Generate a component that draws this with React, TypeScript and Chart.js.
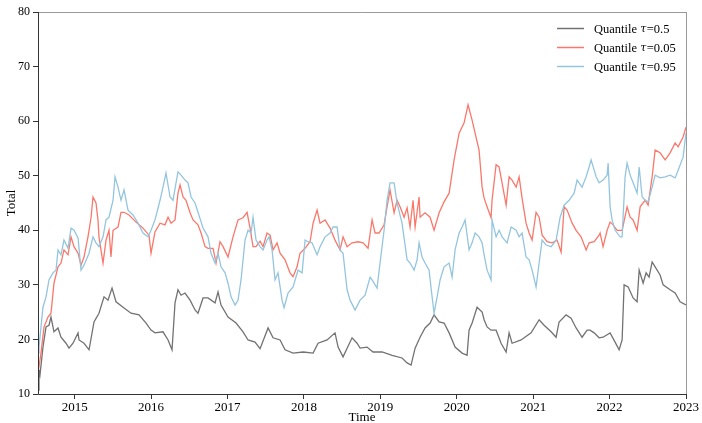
import React, { useEffect, useRef } from "react";
import { Chart, registerables } from "chart.js";

Chart.register(...registerables);

const FONT = "'Liberation Serif', 'Times New Roman', serif";
const GREEK_FONT = "'DejaVu Serif', serif";

const yearTicks = [2015, 2016, 2017, 2018, 2019, 2020, 2021, 2022, 2023];
const valueTicks = [10, 20, 30, 40, 50, 60, 70, 80];
const seriesLabels = ["Quantile τ=0.5", "Quantile τ=0.05", "Quantile τ=0.95"];
const seriesColors = ["#727272", "#f9786b", "#94c5df"];

const medianDates = [2014.520, 2014.533, 2014.546, 2014.585, 2014.625, 2014.664, 2014.690, 2014.729, 2014.782, 2014.821, 2014.886, 2014.926, 2014.978, 2015.044, 2015.057, 2015.122, 2015.188, 2015.253, 2015.318, 2015.384, 2015.436, 2015.489, 2015.541, 2015.633, 2015.737, 2015.842, 2015.934, 2015.999, 2016.051, 2016.156, 2016.222, 2016.274, 2016.313, 2016.352, 2016.392, 2016.444, 2016.510, 2016.575, 2016.614, 2016.680, 2016.745, 2016.837, 2016.876, 2016.915, 2017.007, 2017.112, 2017.203, 2017.269, 2017.360, 2017.426, 2017.531, 2017.596, 2017.688, 2017.753, 2017.858, 2017.989, 2018.120, 2018.185, 2018.303, 2018.407, 2018.447, 2018.512, 2018.565, 2018.630, 2018.695, 2018.735, 2018.826, 2018.905, 2019.023, 2019.154, 2019.284, 2019.350, 2019.402, 2019.455, 2019.520, 2019.585, 2019.651, 2019.703, 2019.769, 2019.834, 2019.900, 2019.978, 2020.070, 2020.135, 2020.161, 2020.201, 2020.266, 2020.332, 2020.358, 2020.397, 2020.449, 2020.515, 2020.580, 2020.646, 2020.685, 2020.724, 2020.842, 2020.973, 2021.078, 2021.143, 2021.235, 2021.300, 2021.339, 2021.431, 2021.496, 2021.562, 2021.640, 2021.706, 2021.745, 2021.798, 2021.863, 2021.915, 2022.007, 2022.072, 2022.125, 2022.164, 2022.190, 2022.243, 2022.308, 2022.360, 2022.387, 2022.439, 2022.478, 2022.517, 2022.557, 2022.596, 2022.661, 2022.701, 2022.792, 2022.858, 2022.923, 2023.000];
const medianValues = [10.7, 14.4, 13.5, 18.6, 22.3, 22.6, 24.1, 21.4, 22.1, 20.4, 19.3, 18.4, 19.3, 21.2, 19.9, 19.3, 18.1, 23.2, 24.8, 27.8, 27.2, 29.4, 26.9, 25.9, 24.8, 24.5, 23.0, 21.7, 21.2, 21.4, 19.9, 18.1, 26.7, 29.1, 28.1, 28.5, 27.2, 25.4, 24.8, 27.6, 27.6, 26.7, 28.7, 26.3, 24.1, 23.0, 21.4, 19.9, 19.5, 18.3, 22.1, 20.3, 19.9, 18.1, 17.5, 17.7, 17.5, 19.3, 19.9, 21.2, 18.6, 16.8, 18.4, 20.3, 19.3, 18.4, 18.6, 17.7, 17.7, 17.1, 16.6, 15.7, 15.3, 18.4, 20.4, 22.1, 23.0, 24.5, 23.2, 23.0, 21.2, 18.6, 17.5, 17.1, 21.7, 23.0, 25.9, 25.0, 23.6, 22.3, 21.7, 21.7, 19.3, 17.7, 21.2, 19.3, 19.9, 21.2, 23.6, 22.6, 21.4, 20.4, 23.2, 24.5, 23.9, 22.1, 20.4, 21.7, 21.7, 21.2, 20.3, 20.4, 21.2, 19.5, 18.1, 19.9, 30.0, 29.6, 27.6, 26.9, 32.7, 30.3, 32.2, 31.4, 34.2, 33.3, 31.8, 30.0, 29.1, 28.5, 26.9, 26.3];

const lowDates = [2014.520, 2014.559, 2014.599, 2014.651, 2014.690, 2014.729, 2014.782, 2014.821, 2014.860, 2014.913, 2014.952, 2014.991, 2015.044, 2015.083, 2015.122, 2015.174, 2015.214, 2015.240, 2015.279, 2015.305, 2015.318, 2015.371, 2015.410, 2015.449, 2015.475, 2015.502, 2015.567, 2015.606, 2015.646, 2015.711, 2015.803, 2015.894, 2015.973, 2015.999, 2016.051, 2016.117, 2016.182, 2016.222, 2016.261, 2016.313, 2016.352, 2016.379, 2016.418, 2016.457, 2016.510, 2016.549, 2016.614, 2016.654, 2016.706, 2016.745, 2016.811, 2016.850, 2016.902, 2016.942, 2017.007, 2017.072, 2017.138, 2017.203, 2017.256, 2017.295, 2017.334, 2017.373, 2017.426, 2017.465, 2017.517, 2017.557, 2017.596, 2017.648, 2017.688, 2017.753, 2017.818, 2017.858, 2017.910, 2017.949, 2018.015, 2018.080, 2018.120, 2018.172, 2018.211, 2018.277, 2018.342, 2018.407, 2018.473, 2018.512, 2018.565, 2018.630, 2018.709, 2018.774, 2018.839, 2018.892, 2018.931, 2018.983, 2019.049, 2019.088, 2019.127, 2019.180, 2019.219, 2019.258, 2019.311, 2019.350, 2019.389, 2019.428, 2019.455, 2019.507, 2019.520, 2019.585, 2019.651, 2019.703, 2019.769, 2019.834, 2019.900, 2019.965, 2020.031, 2020.096, 2020.148, 2020.201, 2020.240, 2020.292, 2020.332, 2020.358, 2020.397, 2020.449, 2020.462, 2020.515, 2020.554, 2020.593, 2020.646, 2020.685, 2020.724, 2020.777, 2020.816, 2020.855, 2020.907, 2020.947, 2020.986, 2021.038, 2021.078, 2021.117, 2021.182, 2021.248, 2021.313, 2021.366, 2021.405, 2021.444, 2021.510, 2021.562, 2021.627, 2021.693, 2021.732, 2021.798, 2021.863, 2021.876, 2021.915, 2021.968, 2022.007, 2022.046, 2022.099, 2022.164, 2022.229, 2022.269, 2022.308, 2022.360, 2022.400, 2022.465, 2022.504, 2022.557, 2022.596, 2022.661, 2022.727, 2022.792, 2022.858, 2022.897, 2022.962, 2023.000];
const lowValues = [13.8, 17.5, 22.3, 24.1, 24.8, 30.3, 33.3, 34.0, 36.4, 35.5, 38.8, 37.0, 35.8, 33.6, 35.1, 38.8, 42.3, 46.1, 45.0, 41.9, 38.8, 34.0, 38.2, 40.0, 35.1, 40.0, 40.6, 43.3, 43.3, 42.8, 41.5, 40.4, 39.1, 35.8, 39.7, 41.3, 41.0, 42.4, 41.3, 41.9, 46.8, 48.3, 46.1, 45.5, 43.2, 41.9, 41.0, 39.5, 37.0, 36.7, 36.7, 34.0, 37.9, 37.0, 35.1, 38.8, 41.9, 42.3, 43.3, 40.4, 37.0, 37.0, 38.0, 37.0, 39.5, 39.1, 36.4, 37.7, 35.8, 34.6, 32.2, 31.5, 33.3, 35.8, 36.7, 37.9, 41.3, 43.7, 41.3, 41.9, 40.4, 38.2, 36.4, 38.8, 37.0, 37.7, 37.9, 37.7, 36.7, 41.9, 39.5, 39.5, 41.0, 44.3, 47.4, 43.2, 45.5, 44.3, 42.4, 44.1, 40.6, 45.5, 40.6, 46.1, 42.4, 43.2, 42.4, 40.0, 43.2, 45.2, 46.8, 52.9, 57.8, 59.7, 63.0, 60.2, 57.8, 54.7, 47.9, 45.9, 44.3, 42.3, 45.5, 52.0, 51.6, 48.7, 44.6, 49.8, 49.2, 47.9, 49.8, 45.9, 41.3, 39.5, 38.2, 43.3, 42.4, 39.1, 37.9, 37.7, 38.2, 36.0, 44.3, 43.7, 41.3, 40.0, 38.8, 36.4, 37.7, 37.9, 39.1, 39.5, 37.0, 40.0, 41.5, 41.0, 40.0, 40.0, 44.3, 42.4, 41.9, 40.0, 44.3, 45.5, 44.6, 49.8, 54.7, 54.2, 52.9, 54.2, 56.0, 55.3, 57.1, 58.9];

const highDates = [2014.520, 2014.533, 2014.585, 2014.625, 2014.664, 2014.716, 2014.756, 2014.782, 2014.821, 2014.860, 2014.913, 2014.952, 2014.991, 2015.044, 2015.083, 2015.122, 2015.188, 2015.240, 2015.279, 2015.318, 2015.371, 2015.410, 2015.449, 2015.502, 2015.528, 2015.567, 2015.606, 2015.646, 2015.698, 2015.763, 2015.829, 2015.894, 2015.960, 2015.999, 2016.051, 2016.117, 2016.156, 2016.195, 2016.248, 2016.287, 2016.326, 2016.352, 2016.392, 2016.444, 2016.483, 2016.523, 2016.575, 2016.614, 2016.680, 2016.745, 2016.784, 2016.837, 2016.876, 2016.915, 2016.968, 2017.007, 2017.046, 2017.099, 2017.138, 2017.177, 2017.229, 2017.269, 2017.308, 2017.334, 2017.373, 2017.426, 2017.465, 2017.517, 2017.544, 2017.583, 2017.622, 2017.661, 2017.714, 2017.740, 2017.792, 2017.858, 2017.923, 2017.976, 2018.015, 2018.054, 2018.106, 2018.172, 2018.211, 2018.277, 2018.342, 2018.381, 2018.434, 2018.473, 2018.512, 2018.565, 2018.604, 2018.669, 2018.735, 2018.800, 2018.866, 2018.892, 2018.957, 2018.996, 2019.049, 2019.088, 2019.127, 2019.180, 2019.219, 2019.284, 2019.350, 2019.389, 2019.442, 2019.481, 2019.507, 2019.546, 2019.585, 2019.638, 2019.664, 2019.703, 2019.743, 2019.782, 2019.834, 2019.900, 2019.939, 2019.978, 2020.031, 2020.070, 2020.109, 2020.161, 2020.201, 2020.240, 2020.292, 2020.332, 2020.358, 2020.397, 2020.449, 2020.462, 2020.515, 2020.554, 2020.593, 2020.659, 2020.711, 2020.777, 2020.816, 2020.855, 2020.907, 2020.947, 2020.986, 2021.038, 2021.078, 2021.117, 2021.169, 2021.235, 2021.300, 2021.353, 2021.405, 2021.470, 2021.536, 2021.575, 2021.640, 2021.693, 2021.732, 2021.758, 2021.824, 2021.863, 2021.915, 2021.968, 2021.981, 2022.007, 2022.033, 2022.072, 2022.138, 2022.164, 2022.203, 2022.229, 2022.269, 2022.308, 2022.360, 2022.387, 2022.426, 2022.465, 2022.504, 2022.557, 2022.596, 2022.661, 2022.727, 2022.792, 2022.858, 2022.897, 2022.962, 2023.000];
const highValues = [17.5, 18.6, 25.9, 27.8, 30.9, 32.2, 32.7, 36.4, 35.5, 38.2, 36.7, 40.4, 40.0, 38.6, 32.7, 33.6, 35.8, 38.8, 37.7, 37.0, 38.8, 41.9, 42.4, 45.5, 49.8, 47.9, 45.5, 47.4, 43.7, 42.8, 41.3, 39.5, 38.8, 40.0, 41.9, 45.5, 47.9, 50.5, 46.1, 45.5, 48.7, 50.7, 50.1, 49.2, 48.7, 46.1, 45.0, 43.3, 40.4, 38.8, 35.8, 34.0, 35.8, 33.3, 32.2, 30.3, 27.8, 26.3, 27.2, 30.9, 38.2, 40.0, 39.5, 42.4, 38.2, 37.0, 36.4, 38.2, 38.8, 36.4, 30.9, 32.2, 27.2, 25.8, 28.5, 29.6, 32.7, 32.2, 38.2, 37.9, 37.7, 35.5, 37.0, 38.8, 39.5, 40.6, 40.6, 36.4, 35.8, 29.1, 27.2, 25.4, 27.2, 28.1, 31.4, 30.9, 29.4, 34.0, 40.0, 45.5, 48.7, 48.7, 45.0, 41.3, 34.6, 34.0, 32.7, 34.6, 37.7, 35.1, 34.0, 32.7, 29.4, 24.8, 27.8, 30.9, 33.3, 34.0, 31.4, 36.4, 39.5, 40.6, 41.9, 36.4, 37.7, 39.5, 38.8, 37.7, 35.5, 32.7, 30.9, 41.9, 38.8, 40.0, 38.8, 37.7, 40.6, 40.0, 38.8, 39.5, 35.1, 34.6, 32.7, 29.6, 34.0, 38.2, 37.3, 37.0, 38.2, 42.4, 44.6, 45.5, 46.8, 49.2, 47.9, 49.8, 51.6, 52.9, 49.8, 48.7, 49.2, 50.1, 52.3, 44.3, 41.9, 40.0, 38.8, 38.8, 49.8, 52.3, 50.1, 48.7, 46.8, 51.6, 46.1, 45.5, 45.2, 47.9, 50.1, 49.6, 49.8, 50.1, 49.6, 51.0, 53.4, 57.8];

const toPoints = (xs: number[], ys: number[]) =>
  xs.map((x, i) => ({ x, y: ys[i] }));

const framePlugin = {
  id: "frame",
  afterDraw(chart: any) {
    const { ctx, chartArea } = chart;
    const { left, right, top, bottom } = chartArea;
    ctx.save();
    ctx.lineWidth = 1;
    ctx.strokeStyle = "#9a9a9a";
    ctx.beginPath();
    ctx.moveTo(left, top + 0.5);
    ctx.lineTo(right + 0.5, top + 0.5);
    ctx.moveTo(right + 0.5, top);
    ctx.lineTo(right + 0.5, bottom);
    ctx.stroke();
    ctx.strokeStyle = "#333333";
    ctx.beginPath();
    ctx.moveTo(left + 0.5, top);
    ctx.lineTo(left + 0.5, bottom + 0.5);
    ctx.lineTo(right + 1, bottom + 0.5);
    ctx.stroke();
    ctx.restore();
  },
};

const legendPlugin = {
  id: "inlineLegend",
  afterDraw(chart: any) {
    const { ctx, chartArea } = chart;
    const { right, top } = chartArea;
    ctx.save();
    chart.data.datasets.forEach((ds: any, i: number) => {
      const y = top + 16.5 + i * 19;
      ctx.strokeStyle = ds.borderColor;
      ctx.lineWidth = 1.5;
      ctx.beginPath();
      ctx.moveTo(right - 129, y);
      ctx.lineTo(right - 102, y);
      ctx.stroke();
      const label: string = ds.label;
      const k = label.indexOf("τ");
      const parts = [
        { t: label.slice(0, k), greek: false },
        { t: "τ", greek: true },
        { t: label.slice(k + 1), greek: false },
      ];
      let x = right - 92;
      ctx.fillStyle = "#000";
      ctx.textBaseline = "middle";
      ctx.textAlign = "left";
      parts.forEach((p) => {
        ctx.font = p.greek ? `italic 11px ${GREEK_FONT}` : `12.5px ${FONT}`;
        ctx.fillText(p.t, x, y + 1);
        x += ctx.measureText(p.t).width + (p.greek ? 0.5 : 0);
      });
    });
    ctx.restore();
  },
};

export default function App() {
  const canvasRef = useRef<HTMLCanvasElement | null>(null);

  useEffect(() => {
    const canvas = canvasRef.current;
    if (!canvas) return;
    const chart = new Chart(canvas, {
      type: "line",
      data: {
        datasets: [
          {
            label: seriesLabels[0],
            data: toPoints(medianDates, medianValues),
            borderColor: seriesColors[0],
            borderWidth: 1.3,
            pointRadius: 0,
            tension: 0,
            order: 3,
          },
          {
            label: seriesLabels[1],
            data: toPoints(lowDates, lowValues),
            borderColor: seriesColors[1],
            borderWidth: 1.3,
            pointRadius: 0,
            tension: 0,
            order: 2,
          },
          {
            label: seriesLabels[2],
            data: toPoints(highDates, highValues),
            borderColor: seriesColors[2],
            borderWidth: 1.3,
            pointRadius: 0,
            tension: 0,
            order: 1,
          },
        ],
      },
      options: {
        animation: false,
        responsive: false,
        devicePixelRatio: 1,
        layout: { padding: { top: 12, right: 16, left: 0, bottom: 0 } },
        plugins: {
          legend: { display: false },
          tooltip: { enabled: false },
        },
        scales: {
          x: {
            type: "linear",
            min: 2014.52,
            max: 2023,
            afterBuildTicks: (s: any) => {
              s.ticks = yearTicks.map((v) => ({ value: v }));
            },
            afterFit: (s: any) => {
              s.height = 29;
            },
            ticks: {
              callback: (v: any) => String(v),
              font: { family: FONT, size: 13 },
              color: "#000",
              padding: 1,
              maxRotation: 0,
              autoSkip: false,
            },
            grid: {
              drawOnChartArea: false,
              drawTicks: true,
              tickLength: 5,
              color: "#333",
            },
            border: { display: false },
            title: {
              display: true,
              text: "Time",
              color: "#000",
              font: { family: FONT, size: 13, lineHeight: 1 },
              padding: { top: 0, bottom: -1 },
            },
          },
          y: {
            type: "linear",
            min: 10,
            max: 80,
            afterBuildTicks: (s: any) => {
              s.ticks = valueTicks.map((v) => ({ value: v }));
            },
            afterFit: (s: any) => {
              s.width = 38;
            },
            ticks: {
              callback: (v: any) => String(v),
              font: { family: FONT, size: 12 },
              color: "#000",
              padding: 3,
            },
            grid: {
              drawOnChartArea: false,
              drawTicks: true,
              tickLength: 5,
              color: "#333",
            },
            border: { display: false },
            title: {
              display: true,
              text: "Total",
              color: "#000",
              font: { family: FONT, size: 13 },
              padding: { top: 4, bottom: 0 },
            },
          },
        },
      },
      plugins: [framePlugin, legendPlugin],
    });
    return () => chart.destroy();
  }, []);

  return (
    <div style={{ position: "fixed", left: 0, top: 0, width: 702, height: 423, background: "#fff" }}>
      <canvas ref={canvasRef} width={702} height={423} />
    </div>
  );
}
